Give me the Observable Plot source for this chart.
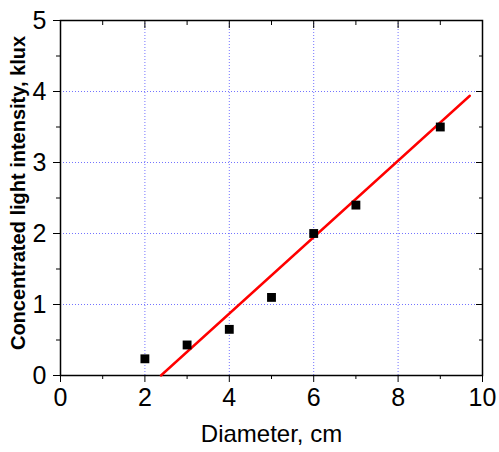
<!DOCTYPE html>
<html>
<head>
<meta charset="utf-8">
<script src="https://cdn.jsdelivr.net/npm/d3@7"></script>
<script src="https://cdn.jsdelivr.net/npm/@observablehq/plot@0.6"></script>
<style>
  html, body { margin: 0; padding: 0; background: white; }
</style>
</head>
<body>
<div id="chart"></div>
<script>
// Measured points
const diameter = [2, 3, 4, 5, 6, 7, 9];
const intensity = [0.235, 0.43, 0.65, 1.10, 2.00, 2.40, 3.50];
// Linear fit line endpoints
const fitDiameter = [2.38, 9.70];
const fitIntensity = [0, 3.94];
// Tick values
const xMajor = [0, 2, 4, 6, 8, 10];
const xMinor = [1, 3, 5, 7, 9];
const xGrid = [2, 4, 6, 8];
const yMajor = [0, 1, 2, 3, 4, 5];
const yMinor = [0.5, 1.5, 2.5, 3.5, 4.5];
const yGrid = [1, 2, 3, 4];
const xTitle = "Diameter, cm";
const yTitle = "Concentrated light intensity, klux";

const points = diameter.map((d, i) => ({x: d, y: intensity[i]}));
const fit = fitDiameter.map((d, i) => ({x: d, y: fitIntensity[i]}));

const gridColor = "#7373ff";
const font = "'Liberation Sans', Arial, sans-serif";
const fmt = d3.format("d");

const chart = Plot.plot({
  width: 499,
  height: 452,
  marginLeft: 60,
  marginRight: 17,
  marginTop: 20,
  marginBottom: 77,
  style: {fontFamily: font, fontSize: "25px", color: "black", background: "white", overflow: "visible"},
  x: {domain: [0, 10]},
  y: {domain: [0, 5]},
  marks: [
    Plot.gridX(xGrid, {stroke: gridColor, strokeOpacity: 1, strokeDasharray: "1,2", strokeWidth: 1}),
    Plot.gridY(yGrid, {stroke: gridColor, strokeOpacity: 1, strokeDasharray: "1,2", strokeWidth: 1}),
    // bottom ticks (outward)
    Plot.axisX({ticks: xMajor, tickSize: 7, fill: "none", stroke: "black"}),
    Plot.axisX({ticks: xMinor, tickSize: 4, fill: "none", stroke: "black"}),
    // top ticks (inward)
    Plot.axisX({anchor: "top", ticks: xMajor, tickSize: 7, dy: 7, fill: "none", stroke: "black"}),
    Plot.axisX({anchor: "top", ticks: xMinor, tickSize: 4, dy: 4, fill: "none", stroke: "black"}),
    // left ticks (outward)
    Plot.axisY({ticks: yMajor, tickSize: 7, fill: "none", stroke: "black"}),
    Plot.axisY({ticks: yMinor, tickSize: 4, fill: "none", stroke: "black"}),
    // right ticks (inward)
    Plot.axisY({anchor: "right", ticks: yMajor, tickSize: 7, dx: -7, fill: "none", stroke: "black"}),
    Plot.axisY({anchor: "right", ticks: yMinor, tickSize: 4, dx: -4, fill: "none", stroke: "black"}),
    // tick labels
    Plot.axisX({ticks: xMajor, tickFormat: fmt, tickSize: 0, tickPadding: 13, fontSize: 25, label: null, fill: "black"}),
    Plot.axisY({ticks: yMajor, tickFormat: fmt, tickSize: 0, tickPadding: 14, fontSize: 25, label: null, fill: "black"}),
    Plot.frame({stroke: "black", strokeWidth: 1.5}),
    Plot.line(fit, {x: "x", y: "y", stroke: "#ff0000", strokeWidth: 2.4}),
    Plot.dot(points, {x: "x", y: "y", symbol: "square", r: 5, fill: "black", stroke: "none"}),
    Plot.text([xTitle], {frameAnchor: "bottom", dy: 59, fontSize: 24, fill: "black", textAnchor: "middle", lineAnchor: "middle", text: d => d}),
    Plot.text([yTitle], {frameAnchor: "left", dx: -42, dy: -5, rotate: -90, fontSize: 20, fontWeight: "bold", fill: "black", textAnchor: "middle", lineAnchor: "middle", text: d => d})
  ]
});
document.getElementById("chart").appendChild(chart);
</script>
</body>
</html>
